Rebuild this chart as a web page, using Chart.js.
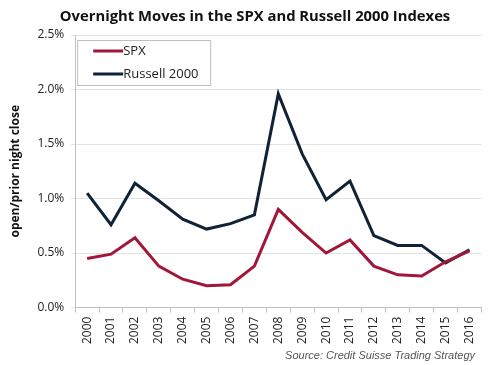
<!DOCTYPE html>
<html>
<head>
<meta charset="utf-8">
<script src="https://cdn.jsdelivr.net/npm/chart.js@4"></script>
<style>
html,body{margin:0;padding:0;background:#fff}
#wrap{width:488px;height:365px;position:relative}
</style>
</head>
<body>
<div id="wrap"><canvas id="c"></canvas></div>
<script>
/* DATA */

const years=["2000","2001","2002","2003","2004","2005","2006","2007","2008","2009","2010","2011","2012","2013","2014","2015","2016"]
const spx=[0.45,0.49,0.64,0.38,0.26,0.20,0.21,0.38,0.90,0.69,0.50,0.62,0.38,0.30,0.29,0.42,0.52]
const russell=[1.05,0.76,1.14,0.98,0.81,0.72,0.77,0.85,1.96,1.41,0.99,1.16,0.66,0.57,0.57,0.41,0.53]
const seriesNames=["SPX","Russell 2000"]
const seriesColors=["#a0173a","#0f2236"]
const chartTitle="Overnight Moves in the SPX and Russell 2000 Indexes"
const sourceNote="Source: Credit Suisse Trading Strategy"

/* TITLE, INSIDE LEGEND BOX, SOURCE NOTE */

const boxLegend={
id:"boxLegend",
afterDraw(chart){
const ctx=chart.ctx
const a=chart.chartArea
ctx.save()

ctx.font="bold 14.8px 'Open Sans', sans-serif"
ctx.fillStyle="#111"
ctx.textAlign="center"
ctx.textBaseline="middle"
ctx.fillText(chartTitle,255,17)

const x=a.left+2, y=a.top+5, w=133, h=45
ctx.textAlign="left"
ctx.fillStyle="#fff"
ctx.fillRect(x,y,w,h)
ctx.strokeStyle="#bfbfbf"
ctx.lineWidth=1
ctx.strokeRect(x+0.5,y+0.5,w,h)
ctx.font="13px 'Open Sans', sans-serif"
seriesNames.forEach((n,i)=>{
const ly=y+11+i*23
ctx.strokeStyle=seriesColors[i]
ctx.lineWidth=3
ctx.beginPath()
ctx.moveTo(x+16,ly)
ctx.lineTo(x+46,ly)
ctx.stroke()
ctx.fillStyle="#222"
ctx.fillText(n,x+46,ly)
})

ctx.font="italic 11px 'Liberation Sans', sans-serif"
ctx.fillStyle="#555"
ctx.textAlign="right"
ctx.textBaseline="alphabetic"
ctx.fillText(sourceNote,chart.width-13,chart.height-6)
ctx.restore()
}
}

new Chart(document.getElementById("c"),{
type:"line",
data:{
labels:years,
datasets:[
{label:seriesNames[0],data:spx,borderColor:seriesColors[0],borderWidth:3,pointRadius:0,tension:0},
{label:seriesNames[1],data:russell,borderColor:seriesColors[1],borderWidth:3,pointRadius:0,tension:0}
]
},
options:{
responsive:true,
maintainAspectRatio:false,
animation:false,
layout:{padding:{left:8,right:5,top:35,bottom:17}},
plugins:{
legend:{display:false},
tooltip:{enabled:false},
title:{display:false}
},
scales:{
x:{
offset:true,
grid:{display:true,drawOnChartArea:false,offset:true,tickLength:5,color:"#bfbfbf"},
border:{color:"#bfbfbf"},
ticks:{maxRotation:90,minRotation:90,color:"#222",font:{family:"'Open Sans', sans-serif",size:12},padding:4}
},
y:{
min:0,
max:2.5,
grid:{color:"#e3e3e3",tickLength:4},
border:{color:"#bfbfbf"},
ticks:{stepSize:0.5,color:"#222",font:{family:"'Open Sans', sans-serif",size:12},padding:7,
callback:v=>v.toFixed(1)+"%"},
title:{display:true,text:"open/prior night close",color:"#111",
font:{family:"'Open Sans', sans-serif",size:12,weight:"bold"},padding:{top:0,bottom:8}}
}
}
},
plugins:[boxLegend]
})
</script>
</body>
</html>
